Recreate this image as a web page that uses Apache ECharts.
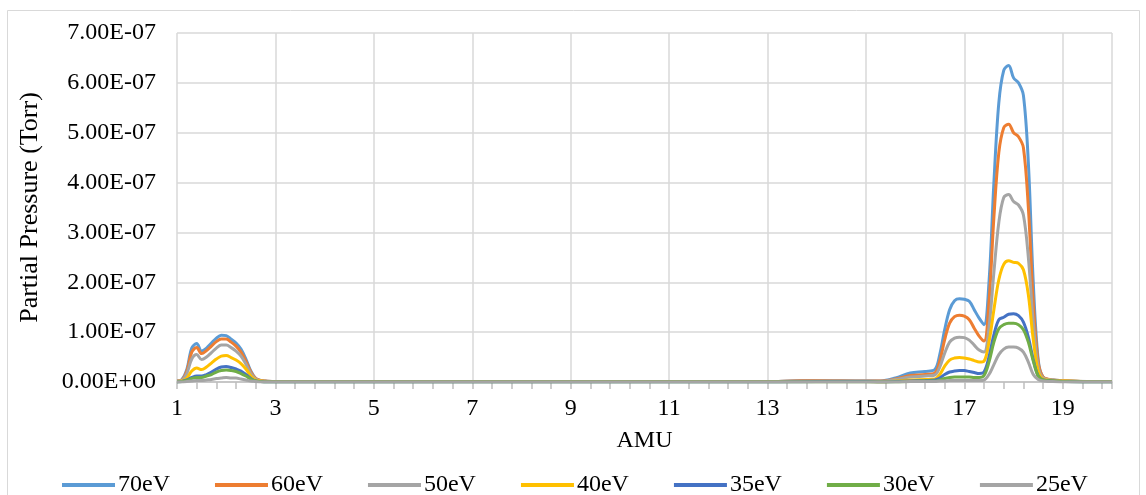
<!DOCTYPE html>
<html>
<head>
<meta charset="utf-8">
<script src="https://cdn.jsdelivr.net/npm/echarts@6/dist/echarts.min.js"></script>
<style>html,body{margin:0;padding:0;background:#fff}#c{width:1146px;height:495px}</style>
</head>
<body>
<div id="c"></div>
<script>
// AMU positions (x values)
const amu = [1.0,1.1,1.2,1.3,1.4,1.5,1.6,1.7,1.8,1.9,2.0,2.1,2.2,2.3,2.4,2.5,2.6,2.7,2.8,
  3,5,7,9,11,13,14,15,
  15.3,15.6,15.9,16.2,16.4,16.5,16.6,16.7,16.8,16.9,17.0,17.1,17.2,17.3,17.4,17.5,17.6,17.7,17.8,17.9,18.0,18.1,18.2,18.3,18.4,18.5,18.6,18.8,19.0,19.5,20];

// Partial pressures in units of 1e-7 Torr
const UNIT = 1e-7;
const p70 = [0.02,0.05,0.25,0.68,0.77,0.62,0.68,0.78,0.88,0.94,0.93,0.86,0.78,0.66,0.46,0.22,0.07,0.03,0.02,
  0.01,0.01,0.01,0.01,0.01,0.01,0.03,0.02,
  0.02,0.08,0.18,0.21,0.25,0.55,1.05,1.45,1.63,1.67,1.66,1.62,1.45,1.28,1.15,2.0,4.0,5.6,6.25,6.35,6.1,6.0,5.75,4.4,2.0,0.45,0.1,0.04,0.03,0.01,0.01];
const p60 = [0.02,0.04,0.22,0.60,0.69,0.57,0.63,0.72,0.81,0.86,0.86,0.80,0.72,0.60,0.42,0.20,0.07,0.03,0.02,
  0.01,0.01,0.01,0.01,0.01,0.01,0.03,0.02,
  0.02,0.06,0.13,0.15,0.18,0.42,0.85,1.18,1.31,1.34,1.32,1.25,1.08,0.92,0.82,1.6,3.3,4.6,5.1,5.17,5.0,4.92,4.7,3.5,1.6,0.4,0.1,0.04,0.03,0.01,0.01];
const p50 = [0.01,0.03,0.17,0.46,0.55,0.45,0.50,0.59,0.68,0.74,0.74,0.69,0.62,0.52,0.36,0.17,0.06,0.02,0.01,
  0.01,0.01,0.01,0.01,0.01,0.01,0.02,0.02,
  0.01,0.05,0.10,0.12,0.14,0.30,0.58,0.80,0.88,0.90,0.89,0.84,0.74,0.64,0.60,1.1,2.2,3.2,3.7,3.76,3.62,3.55,3.35,2.5,1.2,0.3,0.08,0.04,0.02,0.01,0.01];
const p40 = [0.01,0.02,0.08,0.22,0.28,0.25,0.30,0.38,0.46,0.52,0.53,0.49,0.44,0.37,0.26,0.12,0.04,0.02,0.01,
  0.01,0.01,0.01,0.01,0.01,0.01,0.01,0.01,
  0.0,0.02,0.04,0.05,0.06,0.15,0.32,0.44,0.48,0.49,0.48,0.46,0.43,0.40,0.42,0.8,1.45,2.05,2.36,2.43,2.4,2.38,2.25,1.75,0.85,0.22,0.06,0.03,0.02,0.01,0.01];
const p35 = [0.0,0.01,0.04,0.09,0.12,0.12,0.15,0.20,0.26,0.30,0.31,0.29,0.26,0.22,0.15,0.07,0.02,0.01,0.0,
  0.0,0.0,0.0,0.0,0.0,0.0,0.01,0.01,
  0.0,0.01,0.02,0.03,0.04,0.08,0.15,0.20,0.22,0.23,0.23,0.21,0.19,0.17,0.20,0.5,0.95,1.25,1.30,1.36,1.37,1.33,1.2,0.9,0.45,0.12,0.04,0.02,0.01,0.0,0.0];
const p30 = [0.0,0.01,0.03,0.07,0.09,0.09,0.12,0.15,0.20,0.23,0.24,0.23,0.21,0.17,0.12,0.06,0.02,0.01,0.0,
  0.0,0.0,0.0,0.0,0.0,0.0,0.0,0.0,
  0.0,0.0,0.01,0.02,0.02,0.04,0.07,0.09,0.10,0.10,0.10,0.10,0.09,0.09,0.13,0.4,0.8,1.07,1.15,1.18,1.18,1.15,1.05,0.8,0.42,0.12,0.04,0.02,0.01,0.0,0.0];
const p25 = [0.0,0.0,0.01,0.02,0.03,0.03,0.04,0.05,0.07,0.08,0.09,0.08,0.08,0.06,0.04,0.02,0.01,0.0,0.0,
  0.0,0.0,0.0,0.0,0.0,0.0,0.0,0.0,
  0.0,0.0,0.01,0.01,0.01,0.02,0.02,0.03,0.03,0.03,0.03,0.03,0.03,0.03,0.04,0.15,0.35,0.55,0.66,0.70,0.70,0.68,0.60,0.40,0.15,0.05,0.02,0.01,0.0,0.0,0.0];

const seriesNames = ['70eV','60eV','50eV','40eV','35eV','30eV','25eV'];
const seriesValues = [p70,p60,p50,p40,p35,p30,p25];
const colors = ['#5B9BD5','#ED7D31','#A5A5A5','#FFC000','#4472C4','#70AD47','#A5A5A5'];

const FONT = '"Liberation Serif", "Times New Roman", serif';

function fmtExp(v){
  if (v === 0) return '0.00E+00';
  const s = v.toExponential(2).split('e');
  let e = parseInt(s[1],10);
  const sign = e < 0 ? '-' : '+';
  e = Math.abs(e);
  return s[0] + 'E' + sign + (e < 10 ? '0' + e : '' + e);
}

const chart = echarts.init(document.getElementById('c'), null, {renderer:'canvas'});
chart.setOption({
  animation: false,
  backgroundColor: '#fff',
  color: colors,
  graphic: [{
    type: 'rect', shape: {x: 7.5, y: 10.5, width: 1132, height: 500},
    style: {fill: 'none', stroke: '#d9d9d9', lineWidth: 1}, silent: true, z: -10
  }],
  grid: {left: 177, right: 34, top: 33, bottom: 113, containLabel: false},
  legend: {
    data: seriesNames,
    left: 57, top: 468,
    icon: 'rect', itemWidth: 53, itemHeight: 4, itemGap: 45,
    textStyle: {fontFamily: FONT, fontSize: 24, color: '#000', padding: [0,0,0,-2]}
  },
  xAxis: {
    type: 'value', min: 1, max: 20, interval: 2,
    name: 'AMU', nameLocation: 'middle', nameGap: 47,
    nameTextStyle: {fontFamily: FONT, fontSize: 24, color: '#000'},
    axisLine: {show: true, onZero: false, lineStyle: {color: '#bfbfbf', width: 1.5}},
    axisTick: {show: true, length: 7, lineStyle: {color: '#bfbfbf', width: 1.5}},
    minorTick: {show: true, splitNumber: 5, length: 7, lineStyle: {color: '#bfbfbf', width: 1.5}},
    axisLabel: {fontFamily: FONT, fontSize: 24, color: '#000', margin: 15,
      formatter: v => (v === 20 ? '' : String(v))},
    splitLine: {show: true, lineStyle: {color: '#d9d9d9', width: 1.5}}
  },
  yAxis: {
    type: 'value', min: 0, max: 7e-7, interval: 1e-7,
    name: 'Partial Pressure (Torr)', nameLocation: 'middle', nameGap: 134, nameRotate: 90,
    nameTextStyle: {fontFamily: FONT, fontSize: 26, color: '#000'},
    axisLine: {show: false}, axisTick: {show: false},
    axisLabel: {fontFamily: FONT, fontSize: 24, color: '#000', margin: 21, formatter: fmtExp},
    splitLine: {show: true, lineStyle: {color: '#d9d9d9', width: 1.5}}
  },
  series: seriesNames.map((n, i) => ({
    name: n, type: 'line', smooth: 0.35, showSymbol: false, symbol: 'none',
    lineStyle: {width: 3, color: colors[i]},
    itemStyle: {color: colors[i]},
    data: amu.map((x, k) => [x, seriesValues[i][k] * UNIT])
  }))
});
</script>
</body>
</html>
